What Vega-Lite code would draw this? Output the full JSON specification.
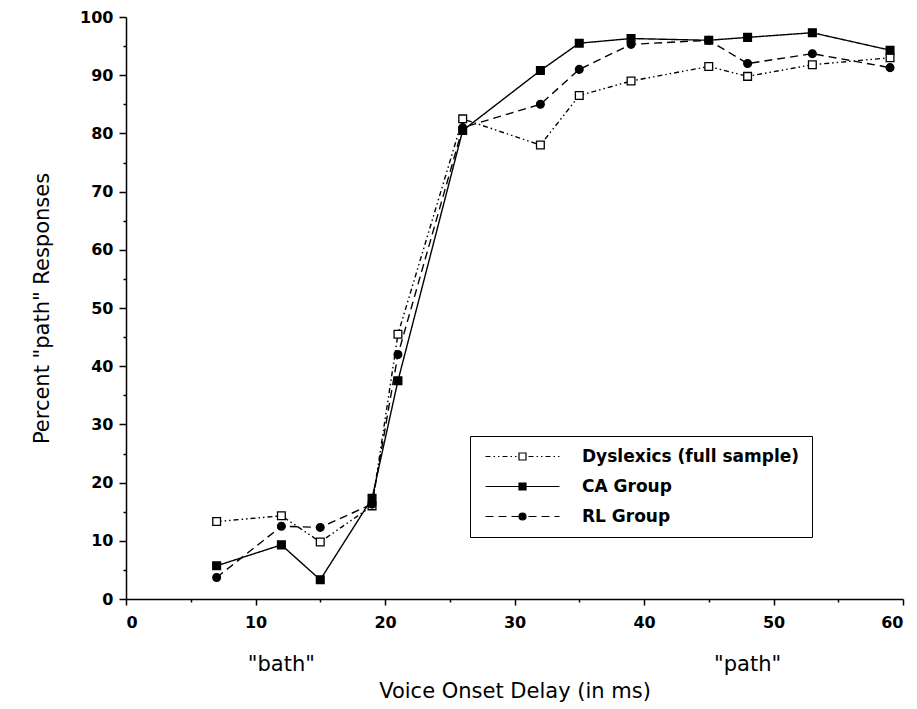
{
  "$schema": "https://vega.github.io/schema/vega-lite/v6.json",
  "width": 777,
  "height": 582,
  "autosize": "none",
  "padding": {"left": 126, "top": 17, "right": 14, "bottom": 110},
  "background": "white",
  "config": {
    "view": {"stroke": null},
    "axis": {
      "domainColor": "black", "domainWidth": 1.5, "tickColor": "black", "tickWidth": 1.5,
      "grid": false, "labelFont": "DejaVu Sans", "labelFontWeight": "bold", "labelFontSize": 16,
      "labelColor": "black", "titleFont": "DejaVu Sans", "titleFontWeight": "normal",
      "titleFontSize": 21, "titleColor": "black"
    }
  },
  "datasets": {
    "main": [
      {"delay": 7, "pct": 13.3, "series": "Dyslexics (full sample)"},
      {"delay": 12, "pct": 14.3, "series": "Dyslexics (full sample)"},
      {"delay": 15, "pct": 9.8, "series": "Dyslexics (full sample)"},
      {"delay": 19, "pct": 16.0, "series": "Dyslexics (full sample)"},
      {"delay": 21, "pct": 45.5, "series": "Dyslexics (full sample)"},
      {"delay": 26, "pct": 82.5, "series": "Dyslexics (full sample)"},
      {"delay": 32, "pct": 78.0, "series": "Dyslexics (full sample)"},
      {"delay": 35, "pct": 86.5, "series": "Dyslexics (full sample)"},
      {"delay": 39, "pct": 89.0, "series": "Dyslexics (full sample)"},
      {"delay": 45, "pct": 91.5, "series": "Dyslexics (full sample)"},
      {"delay": 48, "pct": 89.8, "series": "Dyslexics (full sample)"},
      {"delay": 53, "pct": 91.8, "series": "Dyslexics (full sample)"},
      {"delay": 59, "pct": 93.0, "series": "Dyslexics (full sample)"},
      {"delay": 7, "pct": 5.7, "series": "CA Group"},
      {"delay": 12, "pct": 9.3, "series": "CA Group"},
      {"delay": 15, "pct": 3.3, "series": "CA Group"},
      {"delay": 19, "pct": 17.3, "series": "CA Group"},
      {"delay": 21, "pct": 37.5, "series": "CA Group"},
      {"delay": 26, "pct": 80.5, "series": "CA Group"},
      {"delay": 32, "pct": 90.8, "series": "CA Group"},
      {"delay": 35, "pct": 95.5, "series": "CA Group"},
      {"delay": 39, "pct": 96.3, "series": "CA Group"},
      {"delay": 45, "pct": 96.0, "series": "CA Group"},
      {"delay": 48, "pct": 96.5, "series": "CA Group"},
      {"delay": 53, "pct": 97.3, "series": "CA Group"},
      {"delay": 59, "pct": 94.3, "series": "CA Group"},
      {"delay": 7, "pct": 3.7, "series": "RL Group"},
      {"delay": 12, "pct": 12.5, "series": "RL Group"},
      {"delay": 15, "pct": 12.3, "series": "RL Group"},
      {"delay": 19, "pct": 16.3, "series": "RL Group"},
      {"delay": 21, "pct": 42.0, "series": "RL Group"},
      {"delay": 26, "pct": 81.0, "series": "RL Group"},
      {"delay": 32, "pct": 85.0, "series": "RL Group"},
      {"delay": 35, "pct": 91.0, "series": "RL Group"},
      {"delay": 39, "pct": 95.3, "series": "RL Group"},
      {"delay": 45, "pct": 96.0, "series": "RL Group"},
      {"delay": 48, "pct": 92.0, "series": "RL Group"},
      {"delay": 53, "pct": 93.7, "series": "RL Group"},
      {"delay": 59, "pct": 91.3, "series": "RL Group"}
    ],
    "words": [
      {"delay": 12, "pct": -11.3, "word": "\"bath\""},
      {"delay": 48, "pct": -11.3, "word": "\"path\""}
    ]
  },
  "encoding": {
    "x": {
      "field": "delay", "type": "quantitative",
      "scale": {"domain": [0, 60], "nice": false, "zero": false},
      "axis": {
        "title": "Voice Onset Delay (in ms)",
        "values": [0, 5, 10, 15, 20, 25, 30, 35, 40, 45, 50, 55, 60],
        "labelExpr": "datum.value % 10 === 0 ? datum.label : ''",
        "tickSize": {"condition": {"test": "datum.value % 10 === 0", "value": 6}, "value": 3},
        "labelPadding": 9, "titlePadding": 50
      }
    },
    "y": {
      "field": "pct", "type": "quantitative",
      "scale": {"domain": [0, 100], "nice": false},
      "axis": {
        "title": "Percent \"path\" Responses",
        "values": [0, 5, 10, 15, 20, 25, 30, 35, 40, 45, 50, 55, 60, 65, 70, 75, 80, 85, 90, 95, 100],
        "labelExpr": "datum.value % 10 === 0 ? datum.label : ''",
        "tickSize": {"condition": {"test": "datum.value % 10 === 0", "value": 7}, "value": 3},
        "labelPadding": 6, "titlePadding": 27
      }
    }
  },
  "layer": [
    {
      "data": {"name": "main"},
      "mark": {"type": "line", "color": "black", "strokeWidth": 1.4},
      "encoding": {
        "strokeDash": {
          "field": "series", "type": "nominal",
          "scale": {
            "domain": ["Dyslexics (full sample)", "CA Group", "RL Group"],
            "range": [[5, 3, 1.5, 3, 1.5, 3], [1, 0], [8, 5]]
          },
          "legend": null
        }
      }
    },
    {
      "data": {"name": "main"},
      "mark": {"type": "point", "filled": true, "stroke": "black", "strokeWidth": 1.3, "opacity": 1, "size": 60},
      "encoding": {
        "shape": {
          "field": "series", "type": "nominal",
          "scale": {"domain": ["Dyslexics (full sample)", "CA Group", "RL Group"], "range": ["square", "square", "circle"]},
          "legend": null
        },
        "fill": {
          "field": "series", "type": "nominal",
          "scale": {"domain": ["Dyslexics (full sample)", "CA Group", "RL Group"], "range": ["white", "black", "black"]},
          "legend": null
        }
      }
    },
    {
      "data": {"name": "main"},
      "transform": [{"filter": "false"}],
      "mark": {"type": "point", "filled": true, "stroke": "black", "strokeWidth": 1.2},
      "encoding": {
        "shape": {
          "field": "series", "type": "nominal",
          "scale": {
            "domain": ["Dyslexics (full sample)", "CA Group", "RL Group"],
            "range": [
              "M-1,0h1M0.6,0h0.3M1.5,0h0.3M2.4,0h1M4,0h0.3M4.9,0h0.3M5.7,-0.7h1.4v1.4h-1.4zM7.6,0h1M9.2,0h0.3M10.1,0h0.3M11,0h1M12.6,0h0.3M13.5,0h0.3",
              "M-1,0H5.7M5.7,-0.7h1.4v1.4h-1.4zM7.1,0H13.8",
              "M-1,0h1.6M1.6,0h1.6M4.2,0h1.5M5.7,0a0.7,0.7 0 1,0 1.4,0a0.7,0.7 0 1,0 -1.4,0zM7.6,0h1.6M10.2,0h1.6M12.8,0h1"
            ]
          },
          "legend": {
            "title": null, "orient": "none", "legendX": 344, "legendY": 419,
            "strokeColor": "black", "fillColor": "white", "padding": 12,
            "symbolSize": 100, "symbolStrokeColor": "black", "symbolStrokeWidth": 1.2,
            "labelFont": "DejaVu Sans", "labelFontWeight": "bold", "labelFontSize": 17,
            "labelColor": "black", "labelOffset": 83, "labelLimit": 400, "rowPadding": 12, "symbolOpacity": 1,
            "encode": {"symbols": {"update": {"stroke": {"value": "black"}, "strokeWidth": {"value": 1.2}, "opacity": {"value": 1}}}}
          }
        },
        "fill": {
          "field": "series", "type": "nominal",
          "scale": {"domain": ["Dyslexics (full sample)", "CA Group", "RL Group"], "range": ["white", "black", "black"]},
          "legend": {
            "title": null, "orient": "none", "legendX": 344, "legendY": 419,
            "strokeColor": "black", "fillColor": "white", "padding": 12,
            "symbolSize": 100, "symbolStrokeColor": "black", "symbolStrokeWidth": 1.2,
            "labelFont": "DejaVu Sans", "labelFontWeight": "bold", "labelFontSize": 17,
            "labelColor": "black", "labelOffset": 83, "labelLimit": 400, "rowPadding": 12, "symbolOpacity": 1,
            "encode": {"symbols": {"update": {"stroke": {"value": "black"}, "strokeWidth": {"value": 1.2}, "opacity": {"value": 1}}}}
          }
        }
      }
    },
    {
      "data": {"name": "words"},
      "mark": {"type": "text", "font": "DejaVu Sans", "fontSize": 21, "color": "black", "baseline": "middle"},
      "encoding": {"text": {"field": "word"}}
    }
  ],
  "resolve": {"scale": {"shape": "independent", "fill": "independent"}}
}
